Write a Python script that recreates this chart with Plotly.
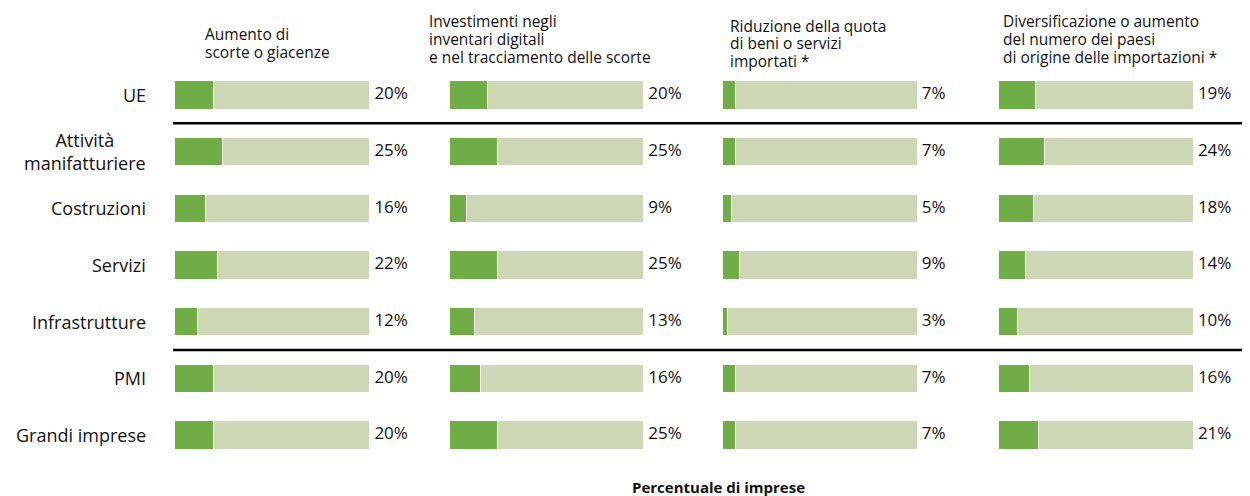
import plotly.graph_objects as go

# ----------------------------
# Data
# ----------------------------
categories = ['UE', 'Attività<br>manifatturiere', 'Costruzioni', 'Servizi',
              'Infrastrutture', 'PMI', 'Grandi imprese']

panel_titles = [
    ['Aumento di', 'scorte o giacenze'],
    ['Investimenti negli', 'inventari digitali', 'e nel tracciamento delle scorte'],
    ['Riduzione della quota', 'di beni o servizi', 'importati *'],
    ['Diversificazione o aumento', 'del numero dei paesi',
     'di origine delle importazioni *'],
]

scorte = [20, 25, 16, 22, 12, 20, 20]
digitale = [20, 25, 9, 25, 13, 16, 25]
riduzione = [7, 7, 5, 9, 3, 7, 7]
diversificazione = [19, 24, 18, 14, 10, 16, 21]

panels = [scorte, digitale, riduzione, diversificazione]

GREEN = '#70AD47'
LIGHT = '#CDD7B6'
TXT = '#111111'
FONT = 'Open Sans'

# the page body has an 8px margin, so the figure is drawn 8px in
OFF = 8
W, H = 1250 - OFF, 496 - OFF


def px_x(p):
    return (p - OFF) / W


def px_y(p):
    return 1 - (p - OFF) / H


# pixel layout of each panel: bar start, bar end, header x, header last baseline
bar_px = [(174, 369.5), (449, 643.5), (722, 917), (998, 1193)]
title_x = [205, 429, 730, 1003]
title_base = [57, 63, 67, 62.5]
LINE = 18
XMAX = 112  # axis extends past 100 to leave room for the value labels

fig = go.Figure()
rows = list(range(len(categories)))

for i, vals in enumerate(panels):
    xa = 'x' if i == 0 else f'x{i + 1}'
    rest = [100 - v for v in vals]
    fig.add_trace(go.Bar(
        x=vals, y=rows, orientation='h', xaxis=xa, yaxis='y',
        marker=dict(color=GREEN, line=dict(color='white', width=1)),
        showlegend=False, hoverinfo='x',
    ))
    fig.add_trace(go.Bar(
        x=rest, y=rows, orientation='h', xaxis=xa, yaxis='y',
        marker=dict(color=LIGHT, line=dict(color='white', width=1)),
        showlegend=False, hoverinfo='skip',
    ))
    fig.add_trace(go.Scatter(
        x=[102.5] * len(vals), y=rows, xaxis=xa, yaxis='y',
        mode='text', text=[f'{v}%' for v in vals],
        textposition='middle right',
        textfont=dict(family=FONT, size=17, color=TXT),
        cliponaxis=False, showlegend=False, hoverinfo='skip',
    ))

    left, right = bar_px[i]
    unit = (right - left) / 100
    axis_cfg = dict(domain=[px_x(left), px_x(left + XMAX * unit)],
                    range=[0, XMAX], visible=False, fixedrange=True)
    if i == 0:
        fig.update_layout(xaxis=axis_cfg)
    else:
        axis_cfg['anchor'] = 'y'
        fig.update_layout(**{f'xaxis{i + 1}': axis_cfg})

    # panel header, one annotation per line
    lines = panel_titles[i]
    for k, line in enumerate(lines):
        base = title_base[i] - (len(lines) - 1 - k) * LINE
        fig.add_annotation(
            text=line, xref='paper', yref='paper',
            x=px_x(title_x[i] - 1), y=px_y(base - 5.5),
            xanchor='left', yanchor='middle', align='left', showarrow=False,
            borderpad=0, font=dict(family=FONT, size=15.5, color=TXT),
        )

# category labels
for r, cat in enumerate(categories):
    fig.add_annotation(
        text=cat, xref='paper', yref='y', x=px_x(148), y=r,
        xanchor='right', yanchor='middle', align='center', showarrow=False,
        font=dict(family=FONT, size=18, color=TXT),
    )

# separator lines between groups
for yv in [0.5, 4.5]:
    fig.add_shape(type='line', xref='paper', yref='y',
                  x0=px_x(173), x1=1, y0=yv, y1=yv,
                  line=dict(color='black', width=2.5))

fig.add_annotation(
    text='<b>Percentuale di imprese</b>', xref='paper', yref='paper',
    x=px_x(718), y=px_y(487), xanchor='center', yanchor='middle',
    showarrow=False, font=dict(family=FONT, size=15, color=TXT),
)

# row centres run from y=95px to y=435px
step = (435 - 95) / 6
fig.update_layout(
    width=W, height=H,
    margin=dict(l=0, r=0, t=0, b=0),
    barmode='stack', bargap=0.5,
    plot_bgcolor='white', paper_bgcolor='white',
    yaxis=dict(domain=[px_y(435 + step / 2), px_y(95 - step / 2)],
               range=[6.5, -0.5], visible=False, fixedrange=True),
)

fig.write_html('out.html')
